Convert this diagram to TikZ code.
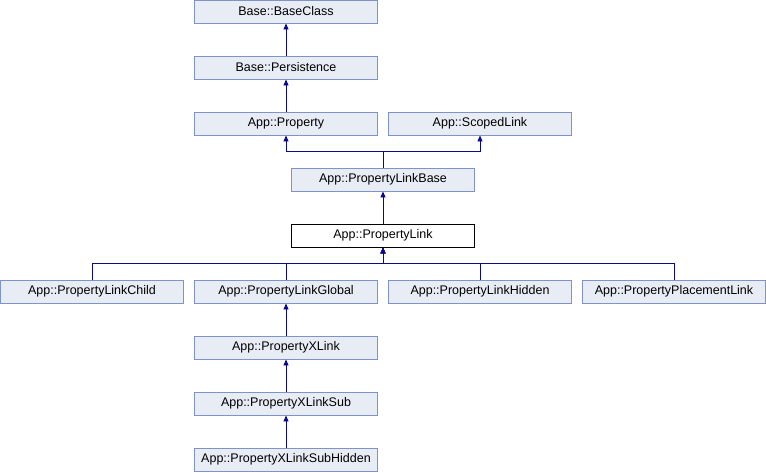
\documentclass[tikz,border=0pt]{standalone}
\usepackage{fontspec}
\setmainfont{Liberation Sans}
\usetikzlibrary{arrows.meta}
\definecolor{boxfill}{HTML}{E8ECF5}
\definecolor{boxline}{HTML}{7F93C9}
\definecolor{edgecol}{HTML}{0A0A8A}
\tikzset{
  cls/.style={draw=boxline, fill=boxfill, line width=0.9pt, minimum width=183pt, minimum height=23pt, inner sep=0pt, font=\fontsize{12.5pt}{14pt}\selectfont},
  curcls/.style={cls, draw=black, fill=white},
  inh/.style={draw=edgecol, line width=0.9pt, -{Triangle[length=6pt,width=5pt]}}
}
\begin{document}
\begin{tikzpicture}[x=1pt,y=-1pt]
\useasboundingbox (0,0) rectangle (766,472);
\node[cls] (bc) at (286,11.5) {Base::BaseClass};
\node[cls] (pers) at (286,67.5) {Base::Persistence};
\node[cls] (prop) at (286,123.5) {App::Property};
\node[cls] (scl) at (480,123.5) {App::ScopedLink};
\node[cls] (plb) at (383,179.5) {App::PropertyLinkBase};
\node[curcls] (pl) at (383,235.5) {App::PropertyLink};
\node[cls] (plc) at (92,291.5) {App::PropertyLinkChild};
\node[cls] (plg) at (286,291.5) {App::PropertyLinkGlobal};
\node[cls] (plh) at (480,291.5) {App::PropertyLinkHidden};
\node[cls] (ppl) at (674,291.5) {App::PropertyPlacementLink};
\node[cls] (pxl) at (286,347.5) {App::PropertyXLink};
\node[cls] (pxls) at (286,403.5) {App::PropertyXLinkSub};
\node[cls] (pxlsh) at (286,459.5) {App::PropertyXLinkSubHidden};

\draw[inh] (pers.north) -- (bc.south);
\draw[inh] (prop.north) -- (pers.south);
\draw[inh] (plb.north) -- ++(0,-16) -| (prop.south);
\draw[inh] (plb.north) -- ++(0,-16) -| (scl.south);
\draw[inh] (pl.north) -- (plb.south);
\draw[inh] (plc.north) -- ++(0,-16) -| (pl.south);
\draw[inh] (plg.north) -- ++(0,-16) -| (pl.south);
\draw[inh] (plh.north) -- ++(0,-16) -| (pl.south);
\draw[inh] (ppl.north) -- ++(0,-16) -| (pl.south);
\draw[inh] (pxl.north) -- (plg.south);
\draw[inh] (pxls.north) -- (pxl.south);
\draw[inh] (pxlsh.north) -- (pxls.south);
\end{tikzpicture}
\end{document}
